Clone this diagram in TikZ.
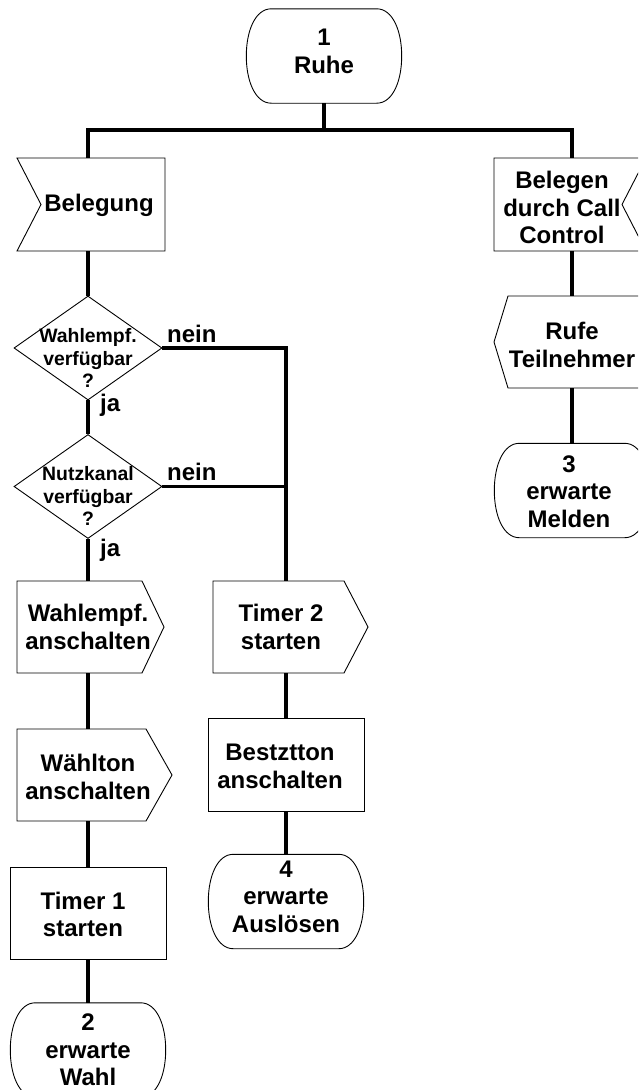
\documentclass[tikz,border=0pt]{standalone}
\usepackage{fontspec}
\setmainfont{Liberation Sans}[BoldFont={Liberation Sans Bold}]
\usetikzlibrary{shapes.geometric,calc}
\newcommand\bigtxt{\fontsize{24}{27.5}\selectfont\bfseries}
\newcommand\smalltxt{\fontsize{19.4}{22.5}\selectfont\bfseries}
\begin{document}
\begin{tikzpicture}[x=1pt,y=-1pt,
  outline/.style={line width=0.9pt, draw=black},
  conn/.style={line width=3.8pt, line join=miter},
  blk/.style={inner sep=0pt, minimum width=100pt},
  statebox/.style={blk, minimum width=155pt, minimum height=94pt},
  txt/.style={font=\bigtxt, align=center},
  dtxt/.style={font=\smalltxt, align=center},
  dia/.style={diamond, outline, minimum width=148pt, minimum height=104pt, inner sep=0pt},
  lab/.style={font=\bigtxt, anchor=base west, inner sep=0pt}
]
\fill[white] (0,0) rectangle (638,1090);
\useasboundingbox (0,0) rectangle (638,1090);
\clip (0,0) rectangle (638,1090);

% nodes
\node[statebox, label={[txt, yshift=4.8pt]center:{1\\Ruhe}}] (s1) at (324,56) {};
\coordinate (bar) at (324,130);
\node[blk, minimum height=93pt, label={[txt, xshift=11pt, yshift=-1pt]center:{Belegung}}] (in1) at (88,204.5) {};
\node[blk, minimum height=93pt, label={[txt, xshift=-10pt, yshift=-3pt]center:{Belegen\\durch Call\\Control}}] (in2) at (572,204.5) {};
\node[blk, minimum height=92pt, label={[txt, yshift=-3pt]center:{Rufe\\Teilnehmer}}] (r1) at (572,342) {};
\node[statebox, label={[txt, xshift=-3pt, yshift=-1pt]center:{3\\erwarte\\Melden}}] (s3) at (572,490.5) {};

\node[dia, label={[dtxt, yshift=-10pt]center:{Wahlempf.\\verfügbar\\?}}] (d1) at (88,348) {};
\node[dia, label={[dtxt, yshift=-9.5pt]center:{Nutzkanal\\verfügbar\\?}}] (d2) at (88,486.5) {};
\node[blk, minimum height=92pt, label={[txt]center:{Wahlempf.\\anschalten}}] (w1) at (88,627) {};
\node[blk, minimum height=92pt, label={[txt, yshift=-2pt]center:{Wählton\\anschalten}}] (w2) at (88,775) {};
\node[blk, outline, minimum width=156pt, minimum height=92pt, label={[txt, xshift=-5pt, yshift=-1.5pt]center:{Timer 1\\starten}}] (t1) at (88,913) {};
\node[statebox, label={[txt]center:{2\\erwarte\\Wahl}}] (s2) at (88,1050) {};

\node[blk, minimum height=92pt, label={[txt, xshift=-5pt]center:{Timer 2\\starten}}] (t2) at (286,627) {};
\node[blk, outline, minimum width=156pt, minimum height=93pt, label={[txt, xshift=-6pt, yshift=-2pt]center:{Bestztton\\anschalten}}] (b1) at (286,764.5) {};
\node[statebox, label={[txt, yshift=5pt]center:{4\\erwarte\\Auslösen}}] (s4) at (286,901.5) {};

\node[lab] (n1) at (167,342) {nein};
\node[lab] (n2) at (167,480) {nein};
\node[lab] (j1) at (100,411) {ja};
\node[lab] (j2) at (100,556) {ja};

% state outlines
\foreach \n in {s1,s2,s3,s4}{
  \draw[outline] ($(\n.north west)+(25,0)$) -- ($(\n.north east)+(-25,0)$)
    .. controls ($(\n.north east)+(-9,0)$) and ($(\n.north east)+(0,22)$) .. (\n.east)
    .. controls ($(\n.south east)+(0,-22)$) and ($(\n.south east)+(-9,0)$) .. ($(\n.south east)+(-25,0)$)
    -- ($(\n.south west)+(25,0)$)
    .. controls ($(\n.south west)+(9,0)$) and ($(\n.south west)+(0,-22)$) .. (\n.west)
    .. controls ($(\n.north west)+(0,22)$) and ($(\n.north west)+(9,0)$) .. cycle;
}
% input symbols
\draw[outline] ($(in1.center)+(-71,-46.5)$) -- ++(148,0) -- ++(0,93) -- ++(-148,0) -- ($(in1.center)+(-47,0)$) -- cycle;
\draw[outline] ($(in2.center)+(74,-46.5)$) -- ++(-152,0) -- ++(0,93) -- ++(152,0) -- ($(in2.center)+(50,0)$) -- cycle;
% output symbols
\draw[outline] ($(r1.center)+(-78,0)$) -- ($(r1.center)+(-64,-46)$) -- ($(r1.center)+(80,-46)$) -- ($(r1.center)+(80,46)$) -- ($(r1.center)+(-64,46)$) -- cycle;
\draw[outline] ($(w1.center)+(-71,-46)$) -- ($(w1.center)+(54,-46)$) -- ($(w1.center)+(76,0)$) -- ($(w1.center)+(54,46)$) -- ($(w1.center)+(-71,46)$) -- cycle;
\draw[outline] ($(w2.center)+(-71,-46)$) -- ($(w2.center)+(58,-46)$) -- ($(w2.center)+(84,0)$) -- ($(w2.center)+(58,46)$) -- ($(w2.center)+(-71,46)$) -- cycle;
\draw[outline] ($(t2.center)+(-73,-46)$) -- ($(t2.center)+(58,-46)$) -- ($(t2.center)+(82,0)$) -- ($(t2.center)+(58,46)$) -- ($(t2.center)+(-73,46)$) -- cycle;

% connectors
\draw[conn] (s1.south) -- (bar);
\draw[conn] (in1.north) |- (bar) -| (in2.north);
\draw[conn] (in2.south) -- (r1.north);
\draw[conn] (r1.south) -- (s3.north);
\draw[conn] (in1.south) -- (d1.north);
\draw[conn] (d1.south) -- (d2.north);
\draw[conn] (d2.south) -- (w1.north);
\draw[conn] (w1.south) -- (w2.north);
\draw[conn] (w2.south) -- (t1.north);
\draw[conn] (t1.south) -- (s2.north);
\draw[conn] (d1.east) -| (t2.north);
\draw[conn] (d2.east) -- (d2.east -| t2.north);
\draw[conn] (t2.south) -- (b1.north);
\draw[conn] (b1.south) -- (s4.north);
\end{tikzpicture}
\end{document}
